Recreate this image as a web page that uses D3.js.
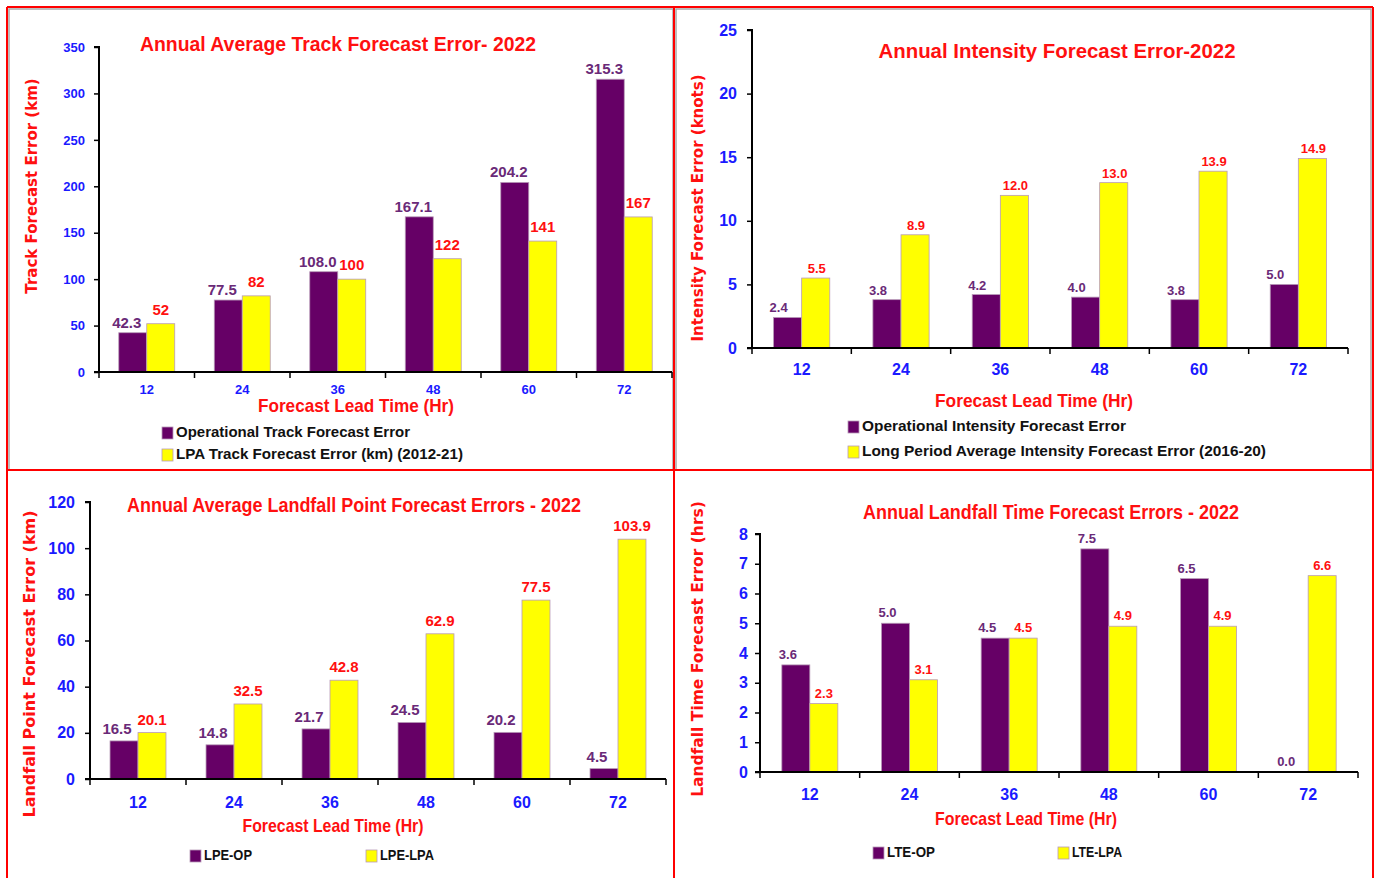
<!DOCTYPE html>
<html>
<head>
<meta charset="utf-8">
<script src="https://cdn.jsdelivr.net/npm/d3@7"></script>
<style>
  html, body { margin: 0; padding: 0; background: #fff; }
  svg { display: block; }
</style>
</head>
<body>
<svg id="chart" width="1379" height="878"></svg>
<script>
// Forecast lead times shared by all four charts
const leadTimes = ["12", "24", "36", "48", "60", "72"];

// Track forecast error (km)
const trackOperational = [42.3, 77.5, 108.0, 167.1, 204.2, 315.3];
const trackLPA = [52, 82, 100, 122, 141, 167];
const trackTicks = [0, 50, 100, 150, 200, 250, 300, 350];

// Intensity forecast error (knots)
const intensityOperational = [2.4, 3.8, 4.2, 4.0, 3.8, 5.0];
const intensityLPA = [5.5, 8.9, 12.0, 13.0, 13.9, 14.9];
const intensityTicks = [0, 5, 10, 15, 20, 25];

// Landfall point forecast error (km)
const landfallPointOP = [16.5, 14.8, 21.7, 24.5, 20.2, 4.5];
const landfallPointLPA = [20.1, 32.5, 42.8, 62.9, 77.5, 103.9];
const landfallPointTicks = [0, 20, 40, 60, 80, 100, 120];

// Landfall time forecast error (hrs)
const landfallTimeOP = [3.6, 5.0, 4.5, 7.5, 6.5, 0.0];
const landfallTimeLPA = [2.3, 3.1, 4.5, 4.9, 4.9, 6.6];
const landfallTimeTicks = [0, 1, 2, 3, 4, 5, 6, 7, 8];

const PURPLE = "#660066";
const YELLOW = "#FFFF00";
const RED = "#FF1010";
const BLUE = "#1A1AFF";
const LABEL_PURPLE = "#6A2A78";
const TEXT_FONT = "'Liberation Sans', Arial, sans-serif";
const AXIS_FONT = "'DejaVu Sans', Verdana, sans-serif";

const svg = d3.select("#chart");

// squeeze a text element horizontally to a given width
function fitWidth(sel, w) {
  if (w) sel.attr("textLength", w).attr("lengthAdjust", "spacingAndGlyphs");
  return sel;
}

// Panel frames: red outer rules and a thin grey border around the upper charts
const frame = svg.append("g");
frame.append("rect").attr("x", 9).attr("y", 9).attr("width", 664).attr("height", 461)
  .attr("fill", "none").attr("stroke", "#a8a8a8").attr("stroke-width", 1.5);
frame.append("rect").attr("x", 676).attr("y", 9).attr("width", 695).attr("height", 461)
  .attr("fill", "none").attr("stroke", "#a8a8a8").attr("stroke-width", 1.5);
frame.append("line").attr("x1", 7).attr("x2", 7).attr("y1", 7).attr("y2", 878);
frame.append("line").attr("x1", 1373).attr("x2", 1373).attr("y1", 7).attr("y2", 878);
frame.append("line").attr("x1", 7).attr("x2", 1373).attr("y1", 7).attr("y2", 7);
frame.append("line").attr("x1", 674).attr("x2", 674).attr("y1", 7).attr("y2", 878);
frame.append("line").attr("x1", 7).attr("x2", 1373).attr("y1", 470).attr("y2", 470);
frame.selectAll("line").attr("stroke", "#FF0000").attr("stroke-width", 2);

function drawPanel(cfg) {
  const g = svg.append("g");
  const x0 = d3.scaleBand().domain(leadTimes).range([cfg.left, cfg.right])
    .paddingInner(cfg.pad).paddingOuter(cfg.pad / 2);
  const x1 = d3.scaleBand().domain(["op", "lpa"]).range([0, x0.bandwidth()]);
  const y = d3.scaleLinear().domain([0, cfg.max]).range([cfg.bottom, cfg.top]);

  const rows = leadTimes.map((t, i) => ({ t, op: cfg.op[i], lpa: cfg.lpa[i] }));

  // bars
  const groups = g.selectAll("g.grp").data(rows).join("g")
    .attr("transform", d => `translate(${x0(d.t)},0)`);
  groups.append("rect")
    .attr("x", x1("op")).attr("width", x1.bandwidth())
    .attr("y", d => y(d.op)).attr("height", d => y(0) - y(d.op))
    .attr("fill", PURPLE).attr("stroke", "#b89ab8").attr("stroke-width", 0.8);
  groups.append("rect")
    .attr("x", x1("lpa")).attr("width", x1.bandwidth())
    .attr("y", d => y(d.lpa)).attr("height", d => y(0) - y(d.lpa))
    .attr("fill", YELLOW).attr("stroke", "#b89ab8").attr("stroke-width", 0.8);

  // value labels
  groups.append("text")
    .attr("x", x1("op") + x1.bandwidth() / 2 + cfg.opShift)
    .attr("y", d => y(d.op) - cfg.opGap)
    .attr("text-anchor", "middle")
    .attr("font-family", TEXT_FONT).attr("font-weight", "bold")
    .attr("font-size", cfg.valSize).attr("fill", LABEL_PURPLE)
    .text(d => cfg.fmtOp(d.op));
  groups.append("text")
    .attr("x", x1("lpa") + x1.bandwidth() / 2 + cfg.lpaShift)
    .attr("y", d => y(d.lpa) - cfg.lpaGap)
    .attr("text-anchor", "middle")
    .attr("font-family", TEXT_FONT).attr("font-weight", "bold")
    .attr("font-size", cfg.valSize).attr("fill", RED)
    .text(d => cfg.fmtLpa(d.lpa));

  // y axis
  const yAxis = g.append("g").attr("transform", `translate(${cfg.left},0)`)
    .call(d3.axisLeft(y).tickValues(cfg.ticks).tickSize(5).tickPadding(cfg.yPad).tickFormat(d3.format("d")));
  yAxis.select(".domain").attr("stroke", "#000").attr("stroke-width", 2)
    .attr("d", `M-5,${cfg.top}H0V${cfg.bottom}`);
  yAxis.selectAll(".tick line").attr("stroke", "#000").attr("stroke-width", 1.5);
  yAxis.selectAll(".tick text").attr("fill", BLUE).attr("font-family", TEXT_FONT)
    .attr("font-weight", "bold").attr("font-size", cfg.tickSize);

  // x axis: ticks sit on the category boundaries
  const xAxisG = g.append("g");
  xAxisG.append("line").attr("x1", cfg.left - 5).attr("x2", cfg.right)
    .attr("y1", cfg.bottom).attr("y2", cfg.bottom)
    .attr("stroke", "#000").attr("stroke-width", 2);
  const bounds = leadTimes.map(t => x0(t) - x0.step() * cfg.pad / 2).concat([cfg.right]);
  xAxisG.selectAll("line.b").data(bounds).join("line").attr("class", "b")
    .attr("x1", d => d).attr("x2", d => d)
    .attr("y1", cfg.bottom).attr("y2", cfg.bottom + 6)
    .attr("stroke", "#000").attr("stroke-width", 1.5);
  xAxisG.selectAll("text").data(leadTimes).join("text")
    .attr("x", d => x0(d) + x0.bandwidth() / 2)
    .attr("y", cfg.xTickY)
    .attr("text-anchor", "middle").attr("dominant-baseline", "middle")
    .attr("fill", BLUE).attr("font-family", TEXT_FONT).attr("font-weight", "bold")
    .attr("font-size", cfg.tickSize)
    .text(d => d);

  // titles
  fitWidth(g.append("text").attr("x", cfg.titleX).attr("y", cfg.titleY)
    .attr("text-anchor", "middle").attr("dominant-baseline", "middle")
    .attr("fill", RED).attr("font-family", TEXT_FONT).attr("font-weight", "bold")
    .attr("font-size", cfg.titleSize).text(cfg.title), cfg.titleW);
  fitWidth(g.append("text").attr("x", cfg.xTitleX).attr("y", cfg.xTitleY)
    .attr("text-anchor", "middle").attr("dominant-baseline", "middle")
    .attr("fill", RED).attr("font-family", TEXT_FONT).attr("font-weight", "bold")
    .attr("font-size", cfg.xTitleSize).text("Forecast Lead Time (Hr)"), cfg.xTitleW);
  g.append("text")
    .attr("transform", `translate(${cfg.yTitleX},${cfg.yTitleY}) rotate(-90)`)
    .attr("text-anchor", "middle").attr("dominant-baseline", "middle")
    .attr("fill", RED).attr("font-family", AXIS_FONT).attr("font-weight", "bold")
    .attr("font-size", cfg.yTitleSize).text(cfg.yTitle);

  // legend
  const leg = g.selectAll("g.leg").data(cfg.legend).join("g")
    .attr("transform", d => `translate(${d.x},${d.y})`);
  leg.append("rect").attr("x", 0).attr("y", -6).attr("width", 11).attr("height", 12)
    .attr("fill", (d, i) => i === 0 ? PURPLE : YELLOW)
    .attr("stroke", "#b89ab8").attr("stroke-width", 0.8);
  leg.append("text").attr("x", 14).attr("y", 0)
    .attr("dominant-baseline", "middle")
    .attr("fill", "#111").attr("font-family", TEXT_FONT).attr("font-weight", "bold")
    .attr("font-size", cfg.legSize).text(d => d.label)
    .each(function(d) { fitWidth(d3.select(this), d.w); });
}

const f1 = d3.format(".1f");
const fInt = d3.format("d");

drawPanel({
  left: 99, right: 672, top: 47, bottom: 372, max: 350, ticks: trackTicks, pad: 0.414,
  op: trackOperational, lpa: trackLPA, fmtOp: f1, fmtLpa: fInt,
  opShift: -6, lpaShift: 0, opGap: 5, lpaGap: 9, valSize: 15,
  tickSize: 13, yPad: 9, xTickY: 391,
  title: "Annual Average Track Forecast Error- 2022", titleX: 338, titleY: 45, titleSize: 21, titleW: 396,
  xTitleX: 356, xTitleY: 407, xTitleSize: 19, xTitleW: 196,
  yTitle: "Track Forecast Error (km)", yTitleX: 32, yTitleY: 186, yTitleSize: 15,
  legSize: 15,
  legend: [{ x: 162, y: 433, label: "Operational Track Forecast Error", w: 234 },
           { x: 162, y: 455, label: "LPA Track Forecast Error (km) (2012-21)", w: 287 }]
});

drawPanel({
  left: 752, right: 1348, top: 30, bottom: 348, max: 25, ticks: intensityTicks, pad: 0.434,
  op: intensityOperational, lpa: intensityLPA, fmtOp: f1, fmtLpa: f1,
  opShift: -9, lpaShift: 1, opGap: 5, lpaGap: 5, valSize: 13,
  tickSize: 16, yPad: 10, xTickY: 371,
  title: "Annual Intensity Forecast  Error-2022", titleX: 1057, titleY: 52, titleSize: 21, titleW: 357,
  xTitleX: 1034, xTitleY: 402, xTitleSize: 19, xTitleW: 198,
  yTitle: "Intensity Forecast Error (knots)", yTitleX: 698, yTitleY: 208, yTitleSize: 15,
  legSize: 15,
  legend: [{ x: 848, y: 427, label: "Operational Intensity Forecast Error", w: 264 },
           { x: 848, y: 452, label: "Long Period Average Intensity Forecast Error (2016-20)", w: 404 }]
});

drawPanel({
  left: 90, right: 666, top: 502, bottom: 779, max: 120, ticks: landfallPointTicks, pad: 0.417,
  op: landfallPointOP, lpa: landfallPointLPA, fmtOp: f1, fmtLpa: f1,
  opShift: -7, lpaShift: 0, opGap: 7, lpaGap: 8, valSize: 15,
  tickSize: 16, yPad: 10, xTickY: 804,
  title: "Annual Average Landfall Point Forecast Errors - 2022", titleX: 354, titleY: 506, titleSize: 21, titleW: 454,
  xTitleX: 333, xTitleY: 827, xTitleSize: 19, xTitleW: 181,
  yTitle: "Landfall Point Forecast Error (km)", yTitleX: 30, yTitleY: 664, yTitleSize: 16,
  legSize: 15,
  legend: [{ x: 190, y: 856, label: "LPE-OP", w: 48 },
           { x: 366, y: 856, label: "LPE-LPA", w: 54 }]
});

drawPanel({
  left: 760, right: 1358, top: 534, bottom: 772, max: 8, ticks: landfallTimeTicks, pad: 0.438,
  op: landfallTimeOP, lpa: landfallTimeLPA, fmtOp: f1, fmtLpa: f1,
  opShift: -8, lpaShift: 0, opGap: 6, lpaGap: 6, valSize: 13,
  tickSize: 16, yPad: 7, xTickY: 796,
  title: "Annual Landfall Time Forecast Errors - 2022", titleX: 1051, titleY: 513, titleSize: 21, titleW: 376,
  xTitleX: 1026, xTitleY: 820, xTitleSize: 19, xTitleW: 182,
  yTitle: "Landfall Time Forecast Error (hrs)", yTitleX: 698, yTitleY: 649, yTitleSize: 15.5,
  legSize: 15,
  legend: [{ x: 873, y: 853, label: "LTE-OP", w: 48 },
           { x: 1058, y: 853, label: "LTE-LPA", w: 50 }]
});
</script>
</body>
</html>
